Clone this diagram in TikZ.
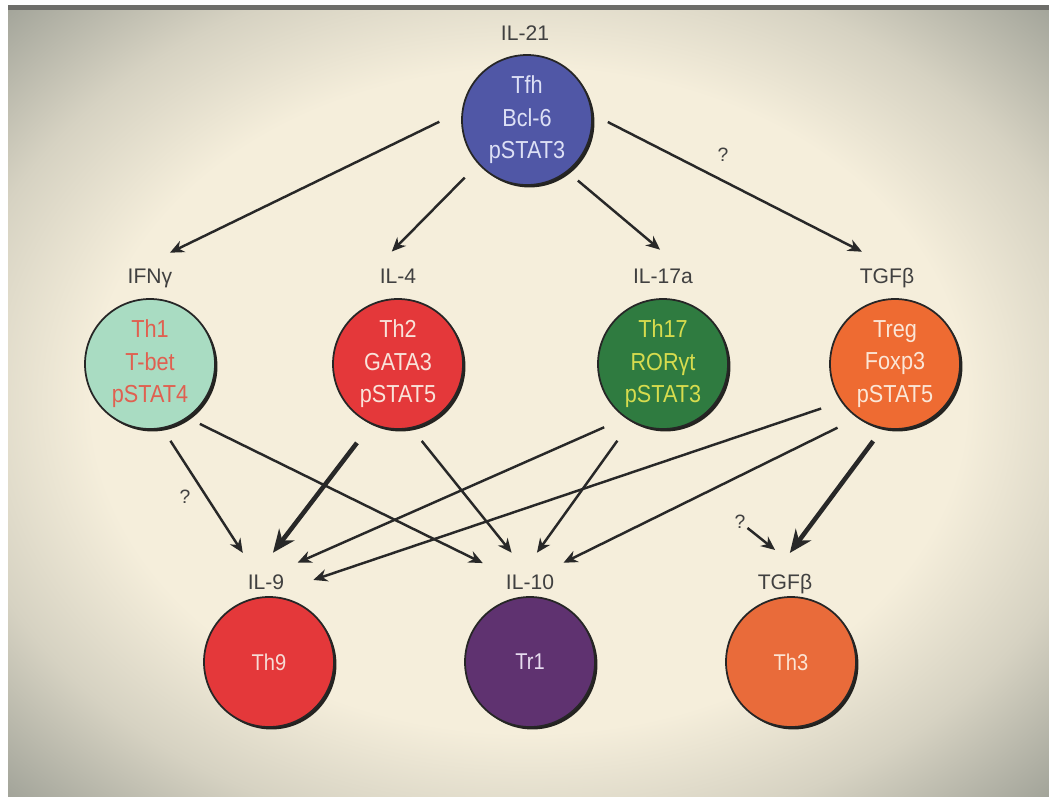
\documentclass[tikz,border=0pt]{standalone}
\usepackage{fontspec}
\setmainfont{Liberation Sans}
\newfontfamily\cellfont[FakeStretch=0.88]{Liberation Sans}
\usepackage{tikz}
\usetikzlibrary{arrows.meta,shapes,shadows}
\usepackage{xcolor}
\definecolor{bgcream}{RGB}{245,238,219}
\definecolor{bgmid}{RGB}{214,210,194}
\definecolor{bgedge}{RGB}{158,160,150}
\definecolor{bargray}{RGB}{110,110,106}
\definecolor{labelgray}{RGB}{64,64,64}
\definecolor{arrowgray}{RGB}{40,40,40}
\definecolor{tfhblue}{RGB}{80,87,166}
\definecolor{thonemint}{RGB}{169,220,194}
\definecolor{thtwored}{RGB}{228,56,58}
\definecolor{thsevgreen}{RGB}{47,123,64}
\definecolor{tregorange}{RGB}{238,107,50}
\definecolor{trpurple}{RGB}{95,50,112}
\definecolor{ththreeorange}{RGB}{233,107,58}
\pgfdeclareradialshading{vignette}{\pgfpoint{0bp}{0bp}}{color(0bp)=(bgcream); color(21bp)=(bgcream); color(28bp)=(bgmid); color(36bp)=(bgedge); color(50bp)=(bgedge)}
\tikzstyle{cell} = [circle, minimum size=2.6cm, inner sep=0pt, align=center, draw=black!85, line width=1pt, drop shadow={shadow xshift=1.4pt, shadow yshift=-1.4pt, fill=black, opacity=0.85}, font=\cellfont\fontsize{14}{18.5}\selectfont]
\tikzstyle{cytokine} = [inner sep=1pt, text height=9pt, text depth=2.5pt, text=labelgray, font=\fontsize{12}{14}\selectfont]
\tikzstyle{query} = [inner sep=1pt, text=labelgray, font=\fontsize{11}{13}\selectfont]
\tikzstyle{link} = [line width=1.4pt, ->, >={Stealth[length=8pt,width=7pt]}, draw=arrowgray]
\tikzstyle{strong} = [line width=2.6pt, ->, >={Stealth[length=13pt,width=11pt]}, draw=arrowgray]

\begin{document}
\begin{tikzpicture}
\useasboundingbox (0,0) rectangle (20.98,-15.92);
% background
\fill[white] (0,0) rectangle (20.98,-15.92);
\shade[shading=vignette] (0.16,-0.1) rectangle (20.98,-15.92);
\fill[bargray] (0.16,-0.1) rectangle (20.98,-0.19);

% top
\node (tfh) [cell, fill=tfhblue, text={rgb,255:red,221;green,224;blue,245}] at (10.54,-2.4) {Tfh\\Bcl-6\\pSTAT3};
\node (il21) [cytokine] at (10.5,-0.7) {IL-21};

% middle row
\node (th1) [cell, fill=thonemint, text={rgb,255:red,224;green,96;blue,80}] at (3.0,-7.28) {Th1\\T-bet\\pSTAT4};
\node (th2) [cell, fill=thtwored, text={rgb,255:red,249;green,227;blue,218}] at (7.96,-7.28) {Th2\\GATA3\\pSTAT5};
\node (th17) [cell, fill=thsevgreen, text={rgb,255:red,215;green,220;blue,78}] at (13.26,-7.28) {Th17\\RORγt\\pSTAT3};
\node (treg) [cell, fill=tregorange, text={rgb,255:red,251;green,230;blue,214}] at (17.9,-7.28) {Treg\\Foxp3\\pSTAT5};

\node (ifng) [cytokine] at (3.0,-5.56) {IFNγ};
\node (il4) [cytokine] at (7.96,-5.56) {IL-4};
\node (il17) [cytokine] at (13.26,-5.56) {IL-17a};
\node (tgfb) [cytokine] at (17.74,-5.56) {TGFβ};

% bottom row
\node (th9) [cell, fill=thtwored, text={rgb,255:red,246;green,220;blue,214}, font=\cellfont\fontsize{13}{15}\selectfont] at (5.38,-13.24) {Th9};
\node (tr1) [cell, fill=trpurple, text={rgb,255:red,232;green,221;blue,240}, font=\cellfont\fontsize{13}{15}\selectfont] at (10.6,-13.24) {Tr1};
\node (th3) [cell, fill=ththreeorange, text={rgb,255:red,252;green,228;blue,212}, font=\cellfont\fontsize{13}{15}\selectfont] at (15.82,-13.24) {Th3};

\node (il9) [cytokine] at (5.32,-11.68) {IL-9};
\node (il10) [cytokine] at (10.6,-11.68) {IL-10};
\node (tgfb2) [cytokine] at (15.7,-11.68) {TGFβ};

\node (q1) [query] at (14.46,-3.1) {?};
\node (q2) [query] at (3.7,-9.94) {?};
\node (q3) [query] at (14.8,-10.44) {?};

% arrows
\draw[link, shorten <=0.5cm, shorten >=0.6cm] (tfh.172) -- (ifng.120);
\draw[link, shorten <=0.38cm, shorten >=0.4cm] (tfh.222) -- (il4.north west);
\draw[link, shorten <=0.27cm, shorten >=0.5cm] (tfh.308) -- (il17.37);
\draw[link, shorten <=0.34cm, shorten >=0.62cm] (tfh.5) -- (tgfb.78);

\draw[link, shorten <=0.29cm, shorten >=0.45cm] (th1.281) -- (il9.132);
\draw[link, shorten <=0.27cm, shorten >=0.47cm] (th1.305) -- (il10.158);
\draw[strong, shorten <=0.47cm, shorten >=0.48cm] (th2.246) -- (il9.122);
\draw[link, shorten <=0.32cm, shorten >=0.49cm] (th2.282) -- (il10.104);
\draw[link, shorten <=0.46cm, shorten >=0.45cm] (th17.235) -- (il9.48);
\draw[link, shorten <=0.47cm, shorten >=0.47cm] (th17.241) -- (il10.119);
\draw[link, shorten <=0.42cm, shorten >=0.57cm] (treg.215) -- (il9.346);
\draw[link, shorten <=0.44cm, shorten >=0.41cm] (treg.235) -- (il10.39);
\draw[strong, shorten <=0.31cm, shorten >=0.47cm] (treg.259) -- (tgfb2.127);
\draw[link, shorten >=0.7cm] (q3) -- (tgfb2.35);
\end{tikzpicture}
\end{document}
